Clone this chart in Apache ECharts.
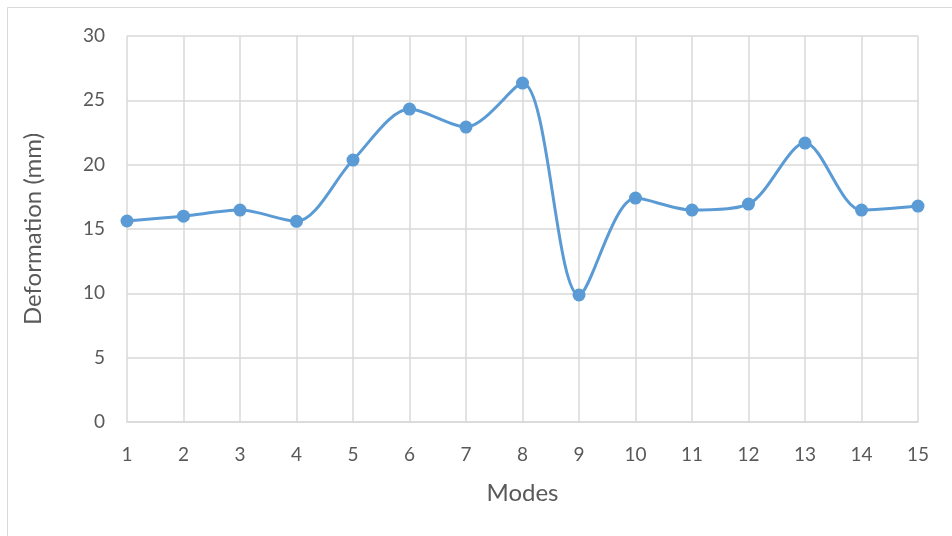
<!DOCTYPE html>
<html><head><meta charset="utf-8">
<script src="https://cdn.jsdelivr.net/npm/echarts@6/dist/echarts.min.js"></script>
<style>html,body{margin:0;padding:0;background:#fff}#c{width:952px;height:536px}</style>
</head><body><div id="c"></div>
<script>
const categories = ['1','2','3','4','5','6','7','8','9','10','11','12','13','14','15'];
const deformation = [15.62, 16.0, 16.47, 15.6, 20.36, 24.32, 22.92, 26.34, 9.87, 17.4, 16.47, 16.94, 21.68, 16.47, 16.78];
const yTicks = [0, 5, 10, 15, 20, 25, 30];

const chart = echarts.init(document.getElementById('c'), null, {renderer: 'canvas'});
chart.setOption({
  animation: false,
  backgroundColor: '#fff',
  graphic: [{type: 'rect', shape: {x: 7.5, y: 7.5, width: 1000, height: 1000}, style: {fill: 'none', stroke: '#d9d9d9', lineWidth: 1}, silent: true}],
  grid: {left: 127, right: 34, top: 36, bottom: 114},
  xAxis: {
    type: 'category', data: categories, boundaryGap: false,
    name: 'Modes', nameLocation: 'middle', nameGap: 59,
    nameTextStyle: {color: '#595959', fontSize: 24, fontFamily: 'Lato'},
    axisLine: {show: true, lineStyle: {color: '#d9d9d9', width: 1.5}},
    axisTick: {show: false},
    axisLabel: {color: '#595959', fontSize: 19, fontFamily: 'Lato', margin: 23},
    splitLine: {show: true, lineStyle: {color: '#d9d9d9', width: 1.5}}
  },
  yAxis: {
    type: 'value', min: yTicks[0], max: yTicks[yTicks.length - 1], interval: 5,
    name: 'Deformation (mm)', nameLocation: 'middle', nameGap: 82,
    nameTextStyle: {color: '#595959', fontSize: 24, fontFamily: 'Lato'},
    axisLine: {show: false}, axisTick: {show: false},
    axisLabel: {color: '#595959', fontSize: 19, fontFamily: 'Lato', margin: 22},
    splitLine: {show: true, lineStyle: {color: '#d9d9d9', width: 1.5}}
  },
  series: [{
    type: 'line', data: deformation, smooth: 0.3,
    symbol: 'circle', symbolSize: 13,
    lineStyle: {color: '#5b9bd5', width: 3},
    itemStyle: {color: '#5b9bd5'}
  }]
});
</script></body></html>
